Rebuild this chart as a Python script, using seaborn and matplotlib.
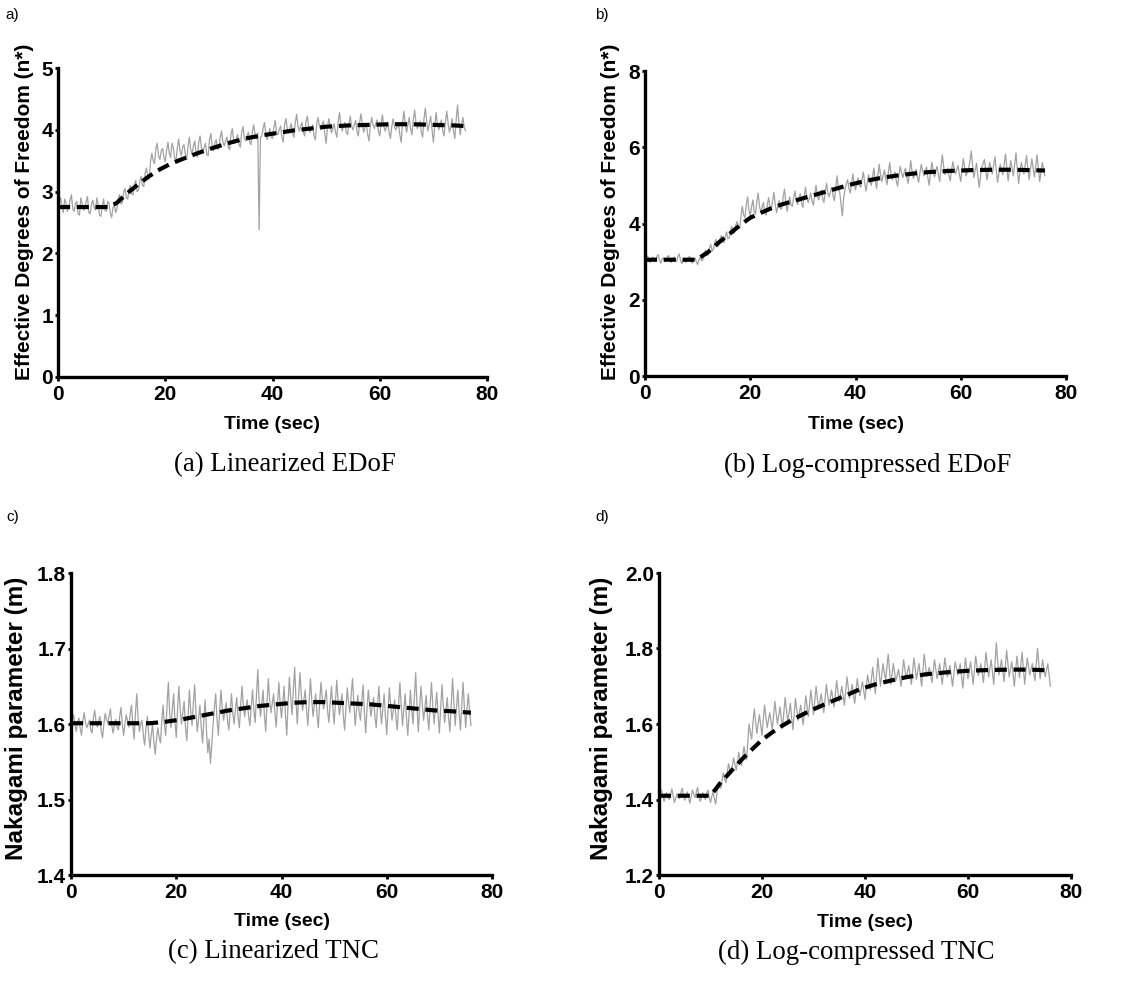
import numpy as np
import matplotlib
matplotlib.use("Agg")
import matplotlib.pyplot as plt
import seaborn as sns

# ---------------- data ----------------
DT = 0.25  # sampling step of the gray traces (s), traces start at t = 0

# (a) Linearized EDoF
a_trace = [2.70, 2.82, 2.90, 2.74, 2.66, 2.88, 2.82, 2.68, 2.74, 2.86, 2.95, 2.72, 2.68, 2.80, 2.84, 2.64, 2.62, 2.90, 2.80, 2.70,
           2.72, 2.84, 2.92, 2.66, 2.64, 2.80, 2.86, 2.74, 2.70, 2.90, 2.78, 2.62, 2.60, 2.76, 2.88, 2.70, 2.68, 2.84, 2.82, 2.66,
           2.58, 2.74, 2.80, 2.66, 2.72, 2.90, 2.95, 2.80, 2.82, 3.00, 3.05, 2.90, 2.88, 3.04, 3.10, 2.96, 2.95, 3.12, 3.18, 3.00,
           3.02, 3.16, 3.25, 3.10, 3.08, 3.30, 3.38, 3.22, 3.20, 3.48, 3.62, 3.50, 3.45, 3.70, 3.78, 3.58, 3.52, 3.66, 3.70, 3.56,
           3.48, 3.66, 3.80, 3.62, 3.55, 3.78, 3.72, 3.54, 3.50, 3.70, 3.85, 3.66, 3.58, 3.72, 3.76, 3.60, 3.52, 3.74, 3.88, 3.68,
           3.60, 3.74, 3.82, 3.62, 3.56, 3.80, 3.90, 3.70, 3.64, 3.72, 3.78, 3.60, 3.58, 3.84, 3.94, 3.74, 3.66, 3.78, 3.84, 3.68,
           3.70, 3.88, 3.98, 3.80, 3.74, 3.82, 3.88, 3.72, 3.68, 3.92, 4.02, 3.84, 3.78, 3.86, 3.92, 3.76, 3.72, 3.96, 4.05, 3.86,
           3.82, 3.90, 3.96, 3.80, 3.76, 3.98, 4.08, 3.92, 3.85, 3.95, 2.38, 3.88, 3.90, 4.02, 4.12, 3.94, 3.84, 3.92, 4.02, 3.88,
           3.86, 4.04, 4.15, 3.96, 3.92, 4.00, 4.06, 3.88, 3.80, 4.08, 4.18, 4.02, 3.95, 4.04, 4.10, 3.94, 3.88, 4.12, 4.25, 4.06,
           3.98, 4.06, 4.12, 3.96, 3.90, 4.14, 4.22, 4.04, 3.96, 4.02, 4.08, 3.90, 3.84, 4.10, 4.20, 4.06, 4.00, 4.08, 4.14, 3.94,
           3.78, 4.04, 4.18, 4.06, 3.95, 4.02, 4.10, 3.96, 3.88, 4.14, 4.28, 4.08, 3.98, 4.06, 4.12, 3.96, 3.92, 4.10, 4.22, 4.06,
           4.00, 4.08, 4.15, 3.98, 3.90, 4.12, 4.26, 4.08, 3.96, 4.04, 4.10, 3.92, 3.82, 4.06, 4.20, 4.08, 4.02, 4.10, 4.16, 3.98,
           3.90, 4.10, 4.24, 4.06, 3.98, 4.04, 4.12, 3.96, 3.86, 4.06, 4.18, 4.04, 4.00, 4.06, 4.10, 3.92, 3.80, 4.12, 4.30, 4.10,
           3.96, 4.08, 4.20, 4.02, 3.92, 4.16, 4.32, 4.12, 4.02, 4.08, 4.14, 3.96, 3.88, 4.18, 4.35, 4.14, 3.98, 4.10, 4.22, 4.00,
           3.80, 4.06, 4.28, 4.10, 4.00, 4.08, 4.16, 3.98, 3.90, 4.14, 4.30, 4.10, 3.96, 4.06, 4.18, 3.98, 3.86, 4.16, 4.40, 4.12,
           3.92, 4.08, 4.20, 4.04, 3.98]
a_fit_t = [0, 9.5, 11, 13, 15, 17, 19, 21, 23, 26, 29, 32, 35, 38, 41, 44,
           47, 50, 54, 58, 62, 66, 70, 74, 76]
a_fit_v = [2.75, 2.75, 2.82, 2.98, 3.12, 3.25, 3.36, 3.45, 3.52, 3.62, 3.71,
           3.79, 3.86, 3.91, 3.95, 3.99, 4.02, 4.05, 4.07, 4.08, 4.09, 4.09,
           4.08, 4.07, 4.06]

# (b) Log-compressed EDoF
b_trace = [3.05, 3.12, 3.15, 3.02, 2.98, 3.08, 3.12, 3.00, 3.02, 3.14, 3.18, 3.04, 2.96, 3.06, 3.10, 3.00, 3.04, 3.12, 3.16, 3.02,
           2.98, 3.06, 3.12, 3.02, 3.00, 3.14, 3.20, 3.04, 2.95, 3.02, 3.08, 2.98, 3.02, 3.10, 3.14, 3.00, 2.96, 3.04, 3.10, 3.00,
           2.92, 3.04, 3.12, 3.02, 3.05, 3.20, 3.30, 3.16, 3.18, 3.36, 3.45, 3.28, 3.32, 3.50, 3.58, 3.40, 3.42, 3.60, 3.68, 3.52,
           3.50, 3.66, 3.78, 3.60, 3.62, 3.82, 3.92, 3.74, 3.75, 3.96, 4.05, 3.90, 3.88, 4.20, 4.45, 4.22, 4.15, 4.50, 4.70, 4.36,
           4.20, 4.44, 4.62, 4.30, 4.25, 4.58, 4.80, 4.46, 4.30, 4.42, 4.55, 4.28, 4.22, 4.50, 4.68, 4.40, 4.35, 4.60, 4.82, 4.50,
           4.28, 4.46, 4.60, 4.38, 4.40, 4.70, 4.90, 4.56, 4.32, 4.52, 4.70, 4.48, 4.45, 4.68, 4.85, 4.60, 4.50, 4.66, 4.78, 4.54,
           4.42, 4.72, 4.95, 4.66, 4.55, 4.68, 4.80, 4.58, 4.48, 4.76, 5.00, 4.74, 4.62, 4.76, 4.88, 4.66, 4.55, 4.82, 5.05, 4.80,
           4.70, 4.84, 4.95, 4.72, 4.60, 4.96, 5.25, 4.94, 4.82, 4.50, 4.20, 4.66, 4.90, 5.04, 5.15, 4.92, 4.80, 5.06, 5.30, 5.02,
           4.88, 5.06, 5.20, 5.00, 4.95, 5.16, 5.35, 5.06, 4.85, 5.08, 5.28, 5.10, 5.00, 5.24, 5.45, 5.14, 4.92, 5.26, 5.55, 5.28,
           5.10, 5.26, 5.40, 5.16, 5.02, 5.34, 5.60, 5.30, 5.15, 5.26, 5.35, 5.12, 4.98, 5.26, 5.50, 5.32, 5.20, 5.34, 5.45, 5.22,
           5.05, 5.36, 5.65, 5.36, 5.18, 5.30, 5.42, 5.22, 5.08, 5.34, 5.55, 5.38, 5.25, 5.36, 5.48, 5.20, 5.00, 5.32, 5.60, 5.40,
           5.22, 5.36, 5.50, 5.28, 5.10, 5.48, 5.80, 5.50, 5.28, 5.36, 5.45, 5.26, 5.12, 5.40, 5.62, 5.44, 5.30, 5.42, 5.52, 5.28,
           5.10, 5.42, 5.70, 5.46, 5.25, 5.34, 5.45, 5.64, 5.90, 5.52, 5.20, 5.40, 5.58, 5.24, 4.95, 5.22, 5.48, 5.58, 5.68, 5.40,
           5.15, 5.38, 5.60, 5.44, 5.30, 5.52, 5.75, 5.40, 5.08, 5.32, 5.55, 5.40, 5.28, 5.56, 5.82, 5.46, 5.12, 5.40, 5.65, 5.44,
           5.25, 5.56, 5.85, 5.42, 5.05, 5.34, 5.60, 5.46, 5.30, 5.54, 5.78, 5.44, 5.15, 5.42, 5.70, 5.46, 5.22, 5.52, 5.80, 5.44,
           5.10, 5.36, 5.60, 5.42, 5.25]
b_fit_t = [0, 9.8, 12, 14, 16, 18, 20, 22, 24, 26, 28, 30, 33, 36, 39, 42,
           45, 48, 51, 54, 58, 62, 66, 70, 76]
b_fit_v = [3.05, 3.05, 3.25, 3.50, 3.72, 3.95, 4.15, 4.28, 4.40, 4.50, 4.58,
           4.66, 4.78, 4.90, 5.02, 5.12, 5.20, 5.26, 5.31, 5.35, 5.38, 5.40,
           5.41, 5.41, 5.39]

# (c) Linearized TNC
c_trace = [1.598, 1.606, 1.612, 1.600, 1.590, 1.602, 1.608, 1.594, 1.585, 1.604, 1.615, 1.602, 1.595, 1.600, 1.605, 1.592, 1.588, 1.608, 1.618, 1.604,
           1.596, 1.604, 1.610, 1.590, 1.582, 1.600, 1.614, 1.606, 1.600, 1.612, 1.620, 1.598, 1.588, 1.598, 1.606, 1.596, 1.592, 1.610, 1.622, 1.600,
           1.585, 1.600, 1.612, 1.604, 1.596, 1.614, 1.625, 1.598, 1.580, 1.615, 1.640, 1.606, 1.590, 1.600, 1.605, 1.584, 1.572, 1.596, 1.610, 1.586,
           1.568, 1.586, 1.600, 1.576, 1.560, 1.580, 1.595, 1.582, 1.575, 1.604, 1.625, 1.598, 1.585, 1.626, 1.655, 1.614, 1.595, 1.620, 1.640, 1.604,
           1.582, 1.620, 1.650, 1.618, 1.600, 1.616, 1.630, 1.596, 1.578, 1.612, 1.645, 1.616, 1.598, 1.628, 1.652, 1.614, 1.590, 1.608, 1.625, 1.596,
           1.575, 1.606, 1.632, 1.590, 1.562, 1.580, 1.548, 1.572, 1.600, 1.622, 1.640, 1.606, 1.585, 1.618, 1.645, 1.620, 1.605, 1.618, 1.628, 1.604,
           1.592, 1.618, 1.640, 1.614, 1.600, 1.620, 1.635, 1.608, 1.595, 1.626, 1.650, 1.624, 1.610, 1.622, 1.632, 1.610, 1.598, 1.624, 1.645, 1.618,
           1.602, 1.640, 1.672, 1.630, 1.610, 1.628, 1.645, 1.612, 1.590, 1.628, 1.660, 1.632, 1.615, 1.628, 1.640, 1.614, 1.596, 1.628, 1.655, 1.626,
           1.608, 1.630, 1.650, 1.612, 1.585, 1.628, 1.662, 1.634, 1.612, 1.646, 1.675, 1.632, 1.600, 1.636, 1.668, 1.640, 1.618, 1.632, 1.645, 1.620,
           1.598, 1.630, 1.660, 1.632, 1.610, 1.626, 1.640, 1.612, 1.595, 1.628, 1.655, 1.634, 1.620, 1.634, 1.645, 1.618, 1.602, 1.628, 1.650, 1.622,
           1.600, 1.630, 1.658, 1.632, 1.612, 1.626, 1.640, 1.610, 1.592, 1.622, 1.648, 1.628, 1.615, 1.640, 1.660, 1.626, 1.598, 1.618, 1.638, 1.616,
           1.605, 1.630, 1.652, 1.616, 1.588, 1.620, 1.645, 1.626, 1.610, 1.624, 1.635, 1.610, 1.595, 1.624, 1.650, 1.622, 1.600, 1.620, 1.640, 1.610,
           1.586, 1.620, 1.648, 1.624, 1.605, 1.618, 1.632, 1.608, 1.592, 1.626, 1.655, 1.624, 1.598, 1.620, 1.640, 1.608, 1.585, 1.616, 1.645, 1.618,
           1.600, 1.636, 1.668, 1.624, 1.590, 1.622, 1.650, 1.626, 1.605, 1.622, 1.638, 1.610, 1.592, 1.626, 1.655, 1.624, 1.600, 1.622, 1.642, 1.612,
           1.588, 1.622, 1.652, 1.624, 1.602, 1.618, 1.635, 1.608, 1.590, 1.626, 1.660, 1.628, 1.598, 1.622, 1.645, 1.616, 1.592, 1.624, 1.655, 1.622,
           1.595, 1.620, 1.640, 1.616, 1.598]
c_fit_t = [0, 15, 18, 21, 24, 27, 30, 33, 36, 39, 42, 45, 48, 51, 54, 57, 60,
           63, 66, 69, 72, 76]
c_fit_v = [1.601, 1.601, 1.603, 1.606, 1.610, 1.614, 1.618, 1.621, 1.624,
           1.626, 1.628, 1.629, 1.629, 1.628, 1.627, 1.626, 1.624, 1.622,
           1.620, 1.618, 1.617, 1.615]

# (d) Log-compressed TNC
d_trace = [1.405, 1.416, 1.425, 1.408, 1.395, 1.408, 1.418, 1.404, 1.400, 1.414, 1.428, 1.410, 1.392, 1.404, 1.415, 1.406, 1.402, 1.418, 1.430, 1.412,
           1.398, 1.410, 1.420, 1.404, 1.390, 1.408, 1.425, 1.414, 1.405, 1.420, 1.432, 1.410, 1.395, 1.406, 1.418, 1.408, 1.400, 1.414, 1.425, 1.406,
           1.392, 1.408, 1.420, 1.402, 1.388, 1.416, 1.445, 1.434, 1.430, 1.452, 1.470, 1.454, 1.445, 1.472, 1.495, 1.478, 1.468, 1.490, 1.510, 1.492,
           1.478, 1.500, 1.525, 1.505, 1.490, 1.516, 1.540, 1.520, 1.505, 1.555, 1.600, 1.576, 1.560, 1.605, 1.640, 1.606, 1.575, 1.600, 1.625, 1.596,
           1.570, 1.612, 1.650, 1.618, 1.590, 1.610, 1.630, 1.606, 1.585, 1.624, 1.660, 1.628, 1.600, 1.622, 1.645, 1.614, 1.590, 1.632, 1.670, 1.636,
           1.605, 1.630, 1.655, 1.618, 1.585, 1.626, 1.668, 1.640, 1.610, 1.630, 1.650, 1.622, 1.598, 1.636, 1.675, 1.648, 1.620, 1.654, 1.690, 1.656,
           1.625, 1.662, 1.700, 1.668, 1.640, 1.660, 1.680, 1.652, 1.630, 1.668, 1.705, 1.676, 1.650, 1.670, 1.690, 1.666, 1.645, 1.680, 1.715, 1.686,
           1.660, 1.680, 1.700, 1.674, 1.650, 1.688, 1.725, 1.696, 1.668, 1.686, 1.705, 1.678, 1.655, 1.688, 1.720, 1.696, 1.675, 1.694, 1.712, 1.688,
           1.665, 1.698, 1.730, 1.710, 1.690, 1.720, 1.750, 1.714, 1.680, 1.728, 1.775, 1.736, 1.700, 1.730, 1.760, 1.736, 1.715, 1.750, 1.785, 1.744,
           1.705, 1.732, 1.760, 1.736, 1.715, 1.730, 1.745, 1.720, 1.700, 1.736, 1.770, 1.744, 1.720, 1.738, 1.755, 1.728, 1.705, 1.740, 1.775, 1.746,
           1.718, 1.740, 1.760, 1.728, 1.700, 1.742, 1.785, 1.754, 1.725, 1.738, 1.750, 1.728, 1.710, 1.740, 1.770, 1.744, 1.720, 1.740, 1.760, 1.730,
           1.705, 1.740, 1.775, 1.750, 1.725, 1.740, 1.755, 1.726, 1.700, 1.732, 1.765, 1.748, 1.730, 1.746, 1.760, 1.726, 1.695, 1.736, 1.775, 1.748,
           1.720, 1.742, 1.765, 1.734, 1.705, 1.742, 1.780, 1.754, 1.728, 1.744, 1.760, 1.734, 1.710, 1.750, 1.790, 1.758, 1.725, 1.748, 1.770, 1.736,
           1.705, 1.760, 1.815, 1.768, 1.730, 1.750, 1.770, 1.740, 1.712, 1.752, 1.795, 1.760, 1.725, 1.746, 1.765, 1.732, 1.700, 1.740, 1.780, 1.750,
           1.722, 1.756, 1.790, 1.748, 1.705, 1.740, 1.775, 1.752, 1.730, 1.746, 1.760, 1.736, 1.715, 1.758, 1.800, 1.760, 1.720, 1.746, 1.770, 1.744,
           1.725, 1.744, 1.760, 1.730, 1.700]
d_fit_t = [0, 10, 12, 14, 16, 18, 20, 22, 24, 26, 28, 30, 33, 36, 39, 42, 45,
           48, 52, 56, 60, 64, 68, 72, 76]
d_fit_v = [1.41, 1.41, 1.445, 1.475, 1.505, 1.532, 1.558, 1.578, 1.596, 1.612,
           1.626, 1.639, 1.657, 1.674, 1.692, 1.705, 1.715, 1.724, 1.732,
           1.737, 1.741, 1.743, 1.744, 1.744, 1.742]

x_ticks = [0, 20, 40, 60, 80]
panel_letters = ["a)", "b)", "c)", "d)"]
captions = ["(a) Linearized EDoF", "(b) Log-compressed EDoF",
            "(c) Linearized TNC", "(d) Log-compressed TNC"]
y_labels = ["Effective Degrees of Freedom (n*)", "Effective Degrees of Freedom (n*)",
            "Nakagami parameter (m)", "Nakagami parameter (m)"]
x_label = "Time (sec)"
y_ticks = [[0, 1, 2, 3, 4, 5], [0, 2, 4, 6, 8],
           [1.4, 1.5, 1.6, 1.7, 1.8], [1.2, 1.4, 1.6, 1.8, 2.0]]
y_tick_labels = [["0", "1", "2", "3", "4", "5"], ["0", "2", "4", "6", "8"],
                 ["1.4", "1.5", "1.6", "1.7", "1.8"], ["1.2", "1.4", "1.6", "1.8", "2.0"]]

# ---------------- style ----------------
sns.set_style("ticks")
plt.rcParams["font.family"] = ["Liberation Sans", "DejaVu Sans"]

W, H = 1129, 988
fig = plt.figure(figsize=(W / 100, H / 100), dpi=100)

def frac_rect(x0, y0, x1, y1):
    return [x0 / W, 1 - y1 / H, (x1 - x0) / W, (y1 - y0) / H]

rects = [frac_rect(58, 68, 487, 377), frac_rect(645, 71, 1066, 376),
         frac_rect(71, 573, 492, 875), frac_rect(659, 573, 1071, 875)]
ylab_pos = [(-0.056, 0.534), (-0.059, 0.538), (-0.102, 0.52), (-0.112, 0.52)]
ylab_size = [15, 15, 17.5, 17.5]
xlab_y = [-0.126, -0.131, -0.126, -0.129]
traces = [a_trace, b_trace, c_trace, d_trace]
fits = [(a_fit_t, a_fit_v), (b_fit_t, b_fit_v), (c_fit_t, c_fit_v), (d_fit_t, d_fit_v)]
letter_pos = [(12, 15), (602, 15), (13, 517), (602, 517)]
caption_pos = [(285, 465), (868, 465), (273, 952), (856, 952)]

GRAY = "#a2a2a2"

for i in range(4):
    ax = fig.add_axes(rects[i])
    tr = traces[i]
    t = np.arange(len(tr)) * DT
    sns.lineplot(x=t, y=tr, ax=ax, color=GRAY, lw=0.9,
                 estimator=None, sort=False)
    sns.lineplot(x=fits[i][0], y=fits[i][1], ax=ax, color="black", lw=3.0,
                 linestyle=(0, (2.9, 1.6)), estimator=None, sort=False)
    ax.set_xlim(0, 80)
    ax.set_ylim(y_ticks[i][0], y_ticks[i][-1])
    ax.set_xticks(x_ticks)
    ax.set_xticklabels([str(v) for v in x_ticks], fontsize=15, fontweight="bold")
    ax.set_yticks(y_ticks[i])
    ax.set_yticklabels(y_tick_labels[i], fontsize=15, fontweight="bold")
    sns.despine(ax=ax)
    for s in ("left", "bottom"):
        ax.spines[s].set_linewidth(2.4)
        ax.spines[s].set_color("black")
    ax.tick_params(axis="y", direction="out", length=2.5, width=2, pad=1, colors="black")
    ax.tick_params(axis="x", direction="out", length=3, width=2, pad=3, colors="black")
    ax.set_ylabel(y_labels[i], fontsize=ylab_size[i], fontweight="bold", color="black")
    ax.yaxis.set_label_coords(*ylab_pos[i])
    ax.set_xlabel(x_label, fontsize=14, fontweight="bold", color="black")
    ax.xaxis.set_label_coords(0.5, xlab_y[i])

    lx, ly = letter_pos[i]
    fig.text(lx / W, 1 - ly / H, panel_letters[i], fontsize=11,
             ha="center", va="center", color="black")
    cx, cy = caption_pos[i]
    fig.text(cx / W, 1 - cy / H, captions[i], fontsize=19.4,
             family=["Liberation Serif", "DejaVu Serif"],
             ha="center", va="center", color="black")

fig.savefig("out.png", dpi=100)
